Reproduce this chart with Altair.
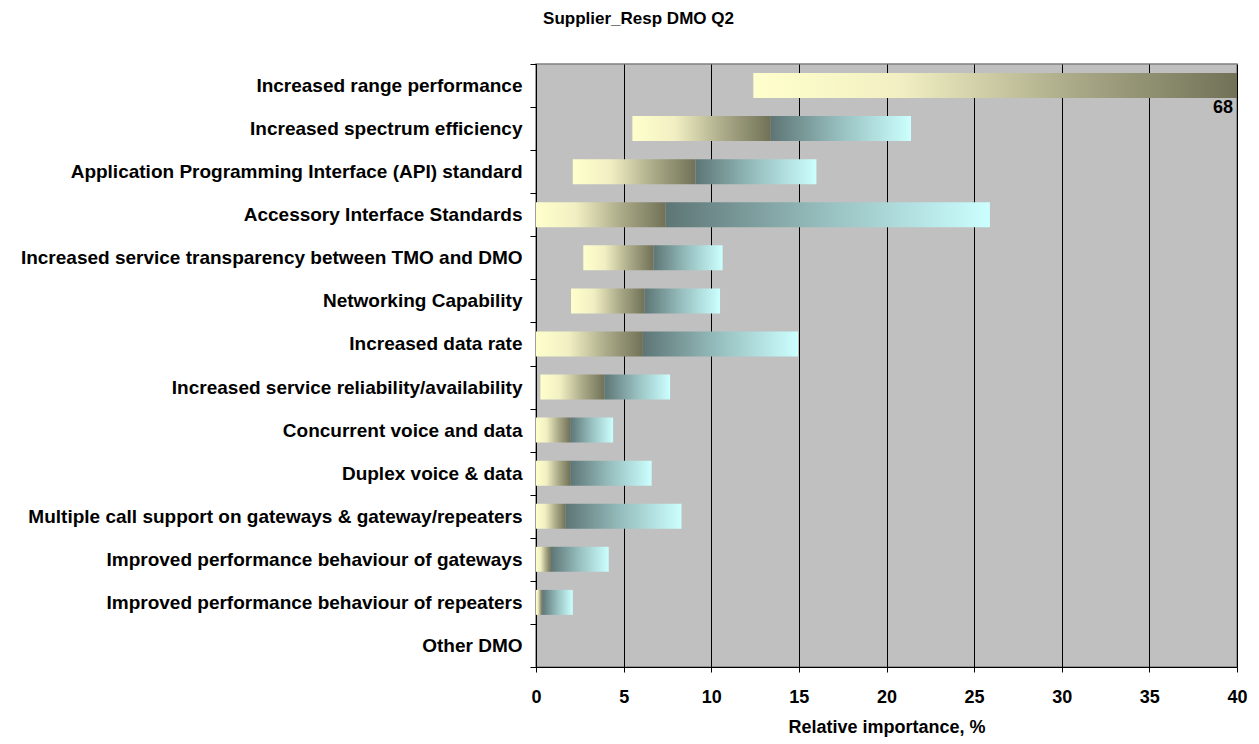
import altair as alt
import pandas as pd

categories = [
    "Increased range performance",
    "Increased spectrum efficiency",
    "Application Programming Interface (API) standard",
    "Accessory Interface Standards",
    "Increased service transparency between TMO and DMO",
    "Networking Capability",
    "Increased data rate",
    "Increased service reliability/availability",
    "Concurrent voice and data",
    "Duplex voice & data",
    "Multiple call support on gateways & gateway/repeaters",
    "Improved performance behaviour of gateways",
    "Improved performance behaviour of repeaters",
    "Other DMO",
]
start = [12.4, 5.5, 2.1, 0.0, 2.7, 2.0, 0.0, 0.25, 0.0, 0.0, 0.0, 0.0, 0.0, 0.0]
mid = [68.0, 13.4, 9.1, 7.4, 6.7, 6.2, 6.1, 3.9, 1.95, 1.95, 1.7, 0.85, 0.35, 0.0]
end = [68.0, 21.4, 16.0, 25.9, 10.65, 10.5, 14.95, 7.65, 4.4, 6.6, 8.3, 4.15, 2.1, 0.0]
x_ticks = [0, 5, 10, 15, 20, 25, 30, 35, 40]
AXIS_MAX = 40

FONT = "Liberation Sans, Arial, sans-serif"

df = pd.DataFrame({"category": categories, "start": start, "mid": mid, "end": end})

grad1 = alt.LinearGradient(
    gradient="linear", x1=0, x2=1, y1=0, y2=0,
    stops=[
        alt.GradientStop(offset=0, color="#FFFFCC"),
        alt.GradientStop(offset=0.3, color="#F2F0C3"),
        alt.GradientStop(offset=0.65, color="#ACAC8A"),
        alt.GradientStop(offset=1, color="#717157"),
    ],
)
grad2 = alt.LinearGradient(
    gradient="linear", x1=0, x2=1, y1=0, y2=0,
    stops=[
        alt.GradientStop(offset=0, color="#5E7575"),
        alt.GradientStop(offset=0.5, color="#98C0C0"),
        alt.GradientStop(offset=1, color="#CCFFFF"),
    ],
)

y_enc = alt.Y(
    "category:N",
    sort=categories,
    scale=alt.Scale(domain=categories, paddingInner=0, paddingOuter=0),
    axis=alt.Axis(
        title=None,
        tickBand="extent",
        labelFont=FONT,
        labelFontSize=19,
        labelFontWeight="bold",
        labelColor="black",
        labelPadding=8,
        labelLimit=800,
        domainColor="black",
        tickColor="black",
        tickSize=6,
        grid=False,
    ),
)

x_axis = alt.Axis(
    values=x_ticks,
    title="Relative importance, %",
    titleFont=FONT,
    titleFontSize=18,
    titleFontWeight="bold",
    titleColor="black",
    titlePadding=12,
    labelFont=FONT,
    labelFontSize=18,
    labelFontWeight="bold",
    labelColor="black",
    labelPadding=16,
    labelFlush=False,
    labelOverlap=False,
    domainColor="black",
    tickColor="black",
    tickSize=5,
    grid=True,
    gridColor="black",
    gridWidth=1,
    gridOpacity=1,
)
x_scale = alt.Scale(domain=[0, AXIS_MAX], nice=False, zero=True)

base = alt.Chart(df).transform_calculate(
    mid_clip=f"min(datum.mid, {AXIS_MAX})",
    end_clip=f"min(datum.end, {AXIS_MAX})",
)

seg1 = base.transform_filter("datum.mid > datum.start").mark_bar(
    color=grad1, clip=True, height=alt.RelativeBandSize(0.58)
).encode(
    x=alt.X("start:Q", scale=x_scale, axis=x_axis),
    x2="mid_clip:Q",
    y=y_enc,
)

seg2 = base.transform_filter("datum.end > datum.mid && datum.mid < %d" % AXIS_MAX).mark_bar(
    color=grad2, clip=True, height=alt.RelativeBandSize(0.58)
).encode(
    x=alt.X("mid:Q", scale=x_scale),
    x2="end_clip:Q",
    y=y_enc,
)

label = base.transform_filter("datum.mid > %d" % AXIS_MAX).mark_text(
    align="right", baseline="middle", dx=-4, dy=22,
    font=FONT, fontSize=18, fontWeight="bold", color="black",
).encode(
    x=alt.X("mid_clip:Q", scale=x_scale),
    y=y_enc,
    text=alt.Text("mid:Q", format="d"),
)

chart = alt.layer(seg1, seg2, label).properties(
    width=701,
    height=603,
    padding={"left": 528, "top": 56, "right": 12, "bottom": 72},
    autosize=alt.AutoSizeParams(type="none"),
    title=alt.TitleParams(
        "Supplier_Resp DMO Q2",
        font=FONT,
        fontSize=17,
        fontWeight="bold",
        color="black",
        anchor="middle",
        dx=-248,
        offset=27,
    ),
).configure(
    background="white"
).configure_view(
    fill="#C0C0C0", stroke="#808080", strokeWidth=1.5
)

chart.save("out.html", embed_options={"renderer": "svg", "actions": False})
